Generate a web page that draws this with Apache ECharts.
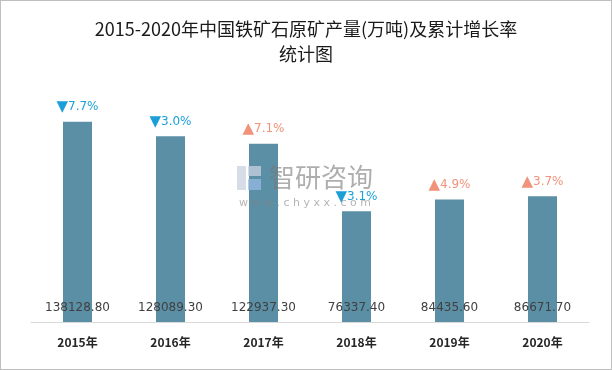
<!DOCTYPE html>
<html><head><meta charset="utf-8">
<script src="https://cdn.jsdelivr.net/npm/echarts@6/dist/echarts.min.js"></script>
<style>html,body{margin:0;padding:0;background:#fff}#c{width:610px;height:368px;border:1px solid #bfbfbf}</style>
</head><body><div id="c"></div>
<script>
var categories = ['2015年','2016年','2017年','2018年','2019年','2020年'];
var production = [138128.80, 128089.30, 122937.30, 76337.40, 84435.60, 86671.70];
var growth = [-7.7, -3.0, 7.1, -3.1, 4.9, 3.7];

var chart = echarts.init(document.getElementById('c'));
chart.setOption({
  backgroundColor: '#fff',
  animation: false,
  title: {
    text: '2015-2020年中国铁矿石原矿产量(万吨)及累计增长率\n统计图',
    left: 'center', top: 11,
    textStyle: {fontFamily: 'Noto Sans CJK SC', fontSize: 18, fontWeight: 'normal', color: '#1a1a1a', lineHeight: 25}
  },
  grid: {left: 30, right: 22, top: 89, bottom: 47},
  xAxis: {
    type: 'category', data: categories,
    axisLine: {lineStyle: {color: '#d9d9d9'}},
    axisTick: {show: false},
    axisLabel: {color: '#262626', fontWeight: 'bold', fontSize: 12, margin: 14, fontFamily: 'Noto Sans CJK SC'}
  },
  yAxis: {type: 'value', min: 0, max: 160000, show: false, splitLine: {show: false}},
  series: [{
    type: 'bar', data: production, barWidth: 29,
    itemStyle: {color: '#5b8fa6'},
    label: {
      show: true, position: 'insideBottom', distance: 8,
      color: '#404040', fontSize: 12, fontFamily: 'DejaVu Sans',
      formatter: function (p) { return production[p.dataIndex].toFixed(2); }
    },
    z: 2
  }, {
    type: 'bar', data: production, barWidth: 29, barGap: '-100%',
    itemStyle: {color: 'rgba(0,0,0,0)'},
    label: {
      show: true, position: 'top', distance: 7,
      formatter: function (p) {
        var g = growth[p.dataIndex];
        return g < 0 ? '{dn|▼}{d|' + Math.abs(g).toFixed(1) + '%}' : '{up|▲}{u|' + g.toFixed(1) + '%}';
      },
      rich: {
        dn: {color: '#1a9fd9', fontSize: 15, fontFamily: 'DejaVu Sans'},
        d: {color: '#1a9fd9', fontSize: 12, fontFamily: 'DejaVu Sans'},
        up: {color: '#f0937a', fontSize: 15, fontFamily: 'DejaVu Sans'},
        u: {color: '#f0937a', fontSize: 12, fontFamily: 'DejaVu Sans'}
      }
    },
    z: 3
  }],
  graphic: [
    {type: 'rect', z: 100, left: 236, top: 165, shape: {width: 9, height: 24}, style: {fill: 'rgba(200,210,225,0.75)'}},
    {type: 'rect', z: 100, left: 247, top: 165, shape: {width: 13, height: 10}, style: {fill: 'rgba(200,210,225,0.75)'}},
    {type: 'rect', z: 100, left: 247, top: 178, shape: {width: 13, height: 11}, style: {fill: 'rgba(150,185,225,0.75)'}},
    {type: 'text', z: 100, left: 268, top: 163, style: {text: '智研咨询', fontSize: 26, fill: 'rgba(120,120,120,0.6)', fontFamily: 'Noto Sans CJK SC'}},
    {type: 'text', z: 100, left: 238, top: 197, style: {text: 'w w w . c h y x x . c o m', fontSize: 11, fill: 'rgba(130,130,130,0.6)', fontFamily: 'DejaVu Sans'}}
  ]
});
</script></body></html>
